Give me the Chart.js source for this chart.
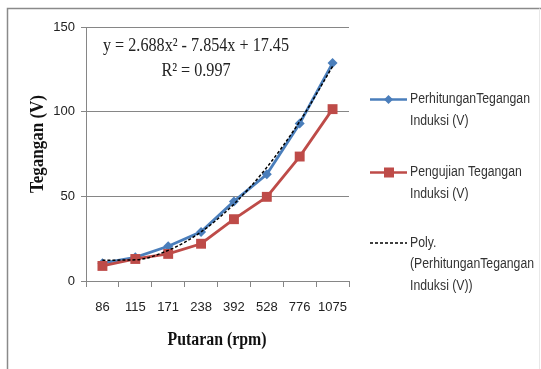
<!DOCTYPE html>
<html><head><meta charset="utf-8">
<script src="https://cdn.jsdelivr.net/npm/chart.js@4.4.1/dist/chart.umd.min.js"></script>
<style>html,body{margin:0;padding:0;background:#fff;overflow:hidden}#wrap{position:relative;width:541px;height:369px}</style>
</head><body><div id="wrap"><canvas id="c" width="541" height="369"></canvas></div>
<script>
// ---- data ----
const categories = ['86', '115', '171', '238', '392', '528', '776', '1075'];
const perhitungan = [10.5, 14, 20.5, 29, 47, 63, 93, 128.7];
const pengujian = [8.9, 13, 16, 22, 36.5, 49.7, 73.5, 101.5];
const polyTrend = [12.3, 12.5, 18.1, 29.0, 45.4, 67.1, 94.2, 126.7];
const yTicks = [0, 50, 100, 150];
const equationLines = ['y = 2.688x² - 7.854x + 17.45', 'R² = 0.997'];
const yTitle = 'Tegangan (V)';
const xTitle = 'Putaran (rpm)';
const legendLabels = [
  ['PerhitunganTegangan', 'Induksi (V)'],
  ['Pengujian Tegangan', 'Induksi (V)'],
  ['Poly.', '(PerhitunganTegangan', 'Induksi (V))']
];

const BLUE = '#4A7EBB', RED = '#BE4B48', GRID = '#868686';
const SANS = '"Liberation Sans", Arial, sans-serif';
const SERIF = '"Liberation Serif", "Times New Roman", serif';

// draw text horizontally compressed by factor sx
function drawScaled(c, text, x, y, sx, align) {
  c.save();
  c.translate(x, y);
  c.scale(sx, 1);
  c.textAlign = align;
  c.fillText(text, 0, 0);
  c.restore();
}

const decor = {
  id: 'decor',
  beforeDraw(chart) {
    const c = chart.ctx;
    c.save();
    c.fillStyle = '#fff';
    c.fillRect(0, 0, chart.width, chart.height);
    c.restore();
  },
  afterDraw(chart) {
    const c = chart.ctx;
    c.save();
    // frame
    c.strokeStyle = '#8a8a8a';
    c.lineWidth = 1.5;
    c.beginPath();
    c.moveTo(7.5, 369); c.lineTo(7.5, 8.5); c.lineTo(541, 8.5);
    c.stroke();
    c.strokeStyle = '#e8e8e8';
    c.lineWidth = 1;
    c.beginPath(); c.moveTo(539.5, 8.5); c.lineTo(539.5, 369); c.stroke();

    c.textBaseline = 'middle';
    // equation
    c.fillStyle = '#222';
    c.font = '19px ' + SERIF;
    const eqS = 186 / c.measureText(equationLines[0]).width;
    drawScaled(c, equationLines[0], 196, 46, eqS, 'center');
    drawScaled(c, equationLines[1], 196, 71, eqS, 'center');

    // axis titles
    c.font = 'bold 18px ' + SERIF;
    c.fillStyle = '#111';
    const xs = 99 / c.measureText(xTitle).width;
    drawScaled(c, xTitle, 217, 340, xs, 'center');
    c.save();
    c.translate(38, 144);
    c.rotate(-Math.PI / 2);
    const ys = 98 / c.measureText(yTitle).width;
    drawScaled(c, yTitle, 0, 0, ys, 'center');
    c.restore();

    // legend
    const entries = [
      { y: 99.5, color: BLUE, marker: 'diamond', dash: [] },
      { y: 172.5, color: RED, marker: 'square', dash: [] },
      { y: 243, color: '#000', marker: null, dash: [3, 2] }
    ];
    c.font = '14px ' + SANS;
    const ls = 120 / c.measureText(legendLabels[0][0]).width;
    entries.forEach((e, i) => {
      c.save();
      c.strokeStyle = e.color;
      c.lineWidth = e.marker ? 2.5 : 1.5;
      c.setLineDash(e.dash);
      c.beginPath(); c.moveTo(370, e.y); c.lineTo(407, e.y); c.stroke();
      c.restore();
      c.fillStyle = e.color;
      if (e.marker === 'diamond') {
        c.beginPath();
        c.moveTo(388.5, e.y - 4.5); c.lineTo(393, e.y); c.lineTo(388.5, e.y + 4.5); c.lineTo(384, e.y);
        c.closePath(); c.fill();
      } else if (e.marker === 'square') {
        c.fillRect(384, e.y - 5, 10, 10);
      }
      c.fillStyle = '#333';
      legendLabels[i].forEach((t, j) => drawScaled(c, t, 410, e.y + j * 21.5, ls, 'left'));
    });
    c.restore();
  }
};

new Chart(document.getElementById('c'), {
  type: 'line',
  data: {
    labels: categories,
    datasets: [
      { label: 'Poly. (PerhitunganTegangan Induksi (V))', data: polyTrend, borderColor: '#000', borderWidth: 1.5,
        borderDash: [3, 2], pointRadius: 0, fill: false, cubicInterpolationMode: 'monotone' },
      { label: 'Pengujian Tegangan Induksi (V)', data: pengujian, borderColor: RED, backgroundColor: RED,
        borderWidth: 2.8, pointStyle: 'rect', pointRadius: 7, pointBackgroundColor: RED, pointBorderColor: RED,
        pointBorderWidth: 0, fill: false, tension: 0 },
      { label: 'PerhitunganTegangan Induksi (V)', data: perhitungan, borderColor: BLUE, backgroundColor: BLUE,
        borderWidth: 2.8, pointStyle: 'rectRot', pointRadius: 5, pointBackgroundColor: BLUE, pointBorderColor: BLUE,
        pointBorderWidth: 0, fill: false, tension: 0 }
    ]
  },
  options: {
    responsive: false,
    animation: false,
    devicePixelRatio: 1,
    layout: { padding: { top: 27, right: 192, left: 0, bottom: 0 } },
    plugins: { legend: { display: false }, tooltip: { enabled: false } },
    scales: {
      x: {
        type: 'category',
        offset: true,
        afterFit(s) { s.height = 88; },
        grid: { display: true, drawOnChartArea: false, drawTicks: true, tickLength: 6, color: GRID, offset: true },
        border: { display: true, color: GRID, width: 1 },
        ticks: { font: { family: SANS, size: 13 }, color: '#222', padding: 13, maxRotation: 0, autoSkip: false }
      },
      y: {
        min: 0, max: 150,
        afterFit(s) { s.width = 86; },
        afterBuildTicks(s) { s.ticks = yTicks.map(v => ({ value: v })); },
        grid: { color: GRID, drawTicks: true, tickLength: 5 },
        border: { display: true, color: GRID, width: 1 },
        ticks: { font: { family: SANS, size: 13 }, color: '#222', padding: 6 }
      }
    }
  },
  plugins: [decor]
});
</script>
</body></html>
